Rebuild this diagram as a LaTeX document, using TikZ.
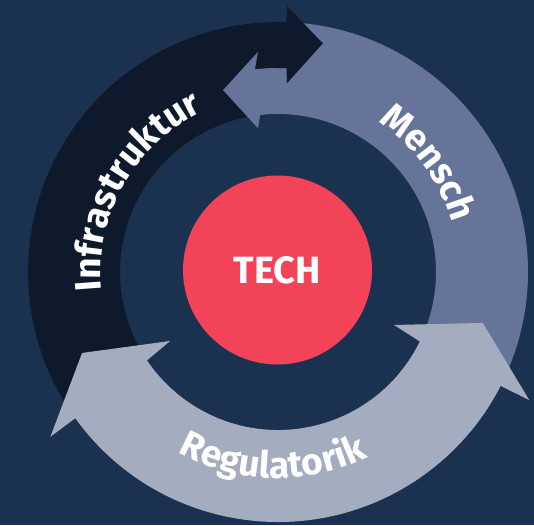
\documentclass[tikz,border=0pt]{standalone}
\usepackage{fontspec}
\setmainfont{Fira Sans}
\usetikzlibrary{calc,decorations.text}
\definecolor{bgnavy}{RGB}{27,49,80}
\definecolor{darkarc}{RGB}{14,26,44}
\definecolor{slatearc}{RGB}{102,116,153}
\definecolor{lightarc}{RGB}{164,172,192}
\definecolor{techred}{RGB}{242,67,88}
\newcommand\arcfont{\fontsize{37}{37}\selectfont\bfseries}
\begin{document}
\begin{tikzpicture}[x=1pt,y=1pt,
  arctext/.style={decorate, decoration={text along path, text={|\arcfont|#1}, text align=center, text color=white}}]
\fill[bgnavy] (0,0) rectangle (534,525);
\useasboundingbox (0,0) rectangle (534,525);
\coordinate (C) at (278,253);
% dark arc body (Infrastruktur)
\fill[darkarc] ($(C)+(222:250)$) arc[start angle=222,end angle=87.9,radius=250]
  -- ($(C)+(87.9:158)$) arc[start angle=87.9,end angle=222,radius=158] -- cycle;
% slate arc (Mensch) with inner half arrow head
\fill[slatearc] ($(C)+(87.9:250)$) arc[start angle=87.9,end angle=-40,radius=250]
  -- ($(C)+(-40:158)$) arc[start angle=-40,end angle=96.5,radius=158]
  -- ($(C)+(97.9:145)$) -- ($(C)+(106.8:190)$) -- ($(C)+(95.2:221)$)
  -- ($(C)+(96.5:204)$) arc[start angle=96.5,end angle=87.9,radius=204] -- cycle;
% dark arrow head, overlapping the dark body a little to hide the seam
\fill[darkarc] ($(C)+(90.5:250)$) -- ($(C)+(88.06:250)$) -- ($(C)+(88.06:266)$)
  -- ($(C)+(78.9:233)$) -- ($(C)+(87.27:189)$) -- ($(C)+(87.6:204)$)
  -- ($(C)+(90.5:204)$) -- cycle;
% light arc (Regulatorik) with two heads
\fill[lightarc] ($(C)+(215.8:250)$) arc[start angle=215.8,end angle=332.9,radius=250]
  -- ($(C)+(333:282)$) -- ($(C)+(346.03:211)$) -- ($(C)+(335.45:127.5)$)
  -- ($(C)+(333.9:158)$) arc[start angle=333.9,end angle=214,radius=158]
  -- ($(C)+(212.6:128)$) -- ($(C)+(202.45:212)$) -- ($(C)+(215.9:281)$) -- cycle;
% centre
\node[circle, fill=techred, minimum size=189pt, inner sep=0pt, text=white,
  font=\fontsize{38}{38}\selectfont\bfseries] (tech) at (277.5,255) {TECH};
% labels along arcs
\path[arctext=Infrastruktur] ($(C)+(200.5:177)$) arc[start angle=200.5,end angle=100.5,radius=177];
\path[arctext=Mensch] ($(C)+(76:181)$) arc[start angle=76,end angle=-4,radius=181];
\path[arctext=Regulatorik] ($(C)+(223.4:206)$) arc[start angle=223.4,end angle=313.4,radius=206];
\end{tikzpicture}
\end{document}
